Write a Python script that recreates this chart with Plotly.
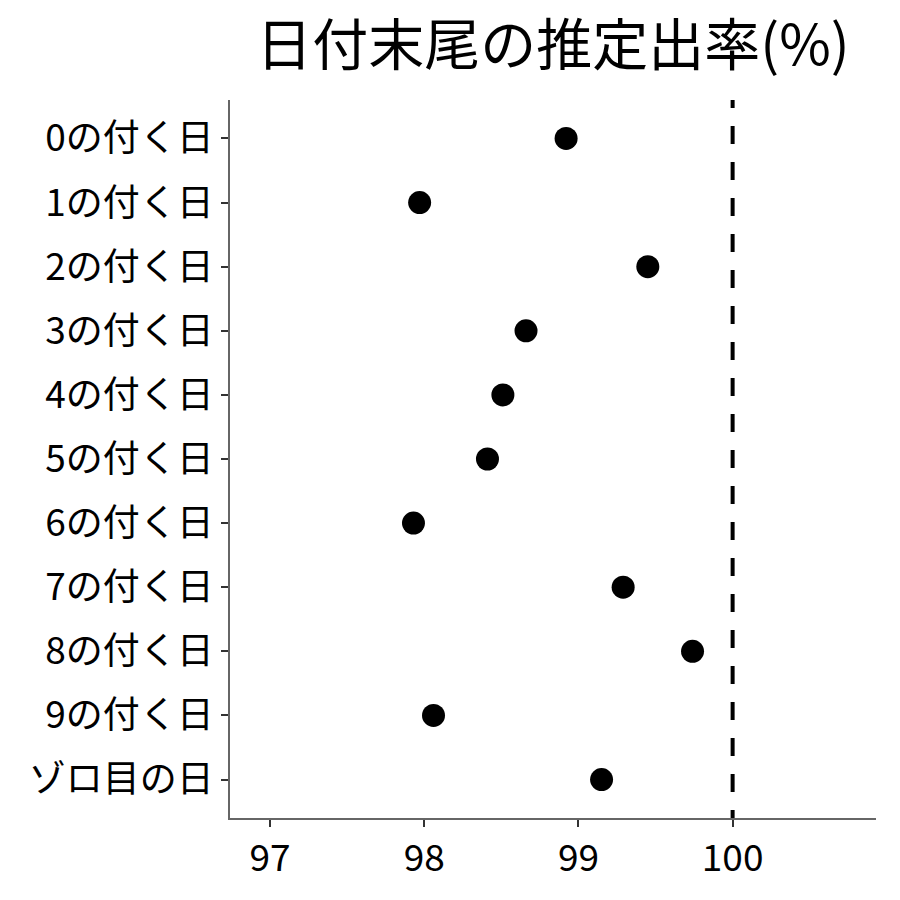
import plotly.graph_objects as go

categories = ["0の付く日", "1の付く日", "2の付く日", "3の付く日", "4の付く日",
              "5の付く日", "6の付く日", "7の付く日", "8の付く日", "9の付く日", "ゾロ目の日"]
rates = [98.92, 97.97, 99.45, 98.66, 98.51, 98.41, 97.93, 99.29, 99.74, 98.06, 99.15]
x_ticks = [97, 98, 99, 100]
ref_value = 100
title_text = "日付末尾の推定出率(%)"

FONT = "Noto Sans CJK JP"

fig = go.Figure()
fig.add_trace(go.Scatter(
    x=rates, y=categories, mode="markers",
    marker=dict(color="black", size=23, line=dict(width=0)),
    showlegend=False, hoverinfo="x+y",
))

fig.add_shape(type="line", xref="x", yref="y",
              x0=ref_value, x1=ref_value, y0=-0.756, y1=12,
              line=dict(color="black", width=4, dash="18px,18px"))

fig.update_layout(
    width=900, height=900,
    margin=dict(l=222, r=32, t=92, b=90),
    plot_bgcolor="white", paper_bgcolor="white",
    font=dict(family=FONT, color="black", size=37),
    title=dict(text=title_text, x=0.5, xref="paper", y=1 - 37 / 900, yref="container",
               yanchor="middle", xanchor="center",
               font=dict(family=FONT, size=56, color="black")),
)
fig.update_xaxes(
    range=[96.74, 100.93], tickvals=x_ticks, ticktext=[str(v) for v in x_ticks],
    showgrid=False, zeroline=False, showline=True, linecolor="#666", linewidth=1.5,
    ticks="outside", ticklen=7, tickwidth=2, tickcolor="#333",
    tickfont=dict(family=FONT, size=37, color="black"),
)
fig.update_yaxes(
    type="category", categoryorder="array", categoryarray=categories,
    range=[10.6, -0.6],
    showgrid=False, zeroline=False, showline=True, linecolor="#666", linewidth=1.5,
    ticks="outside", ticklen=7, tickwidth=2, tickcolor="#333",
    tickfont=dict(family=FONT, size=37, color="black"),
)

fig.write_html("out.html")
